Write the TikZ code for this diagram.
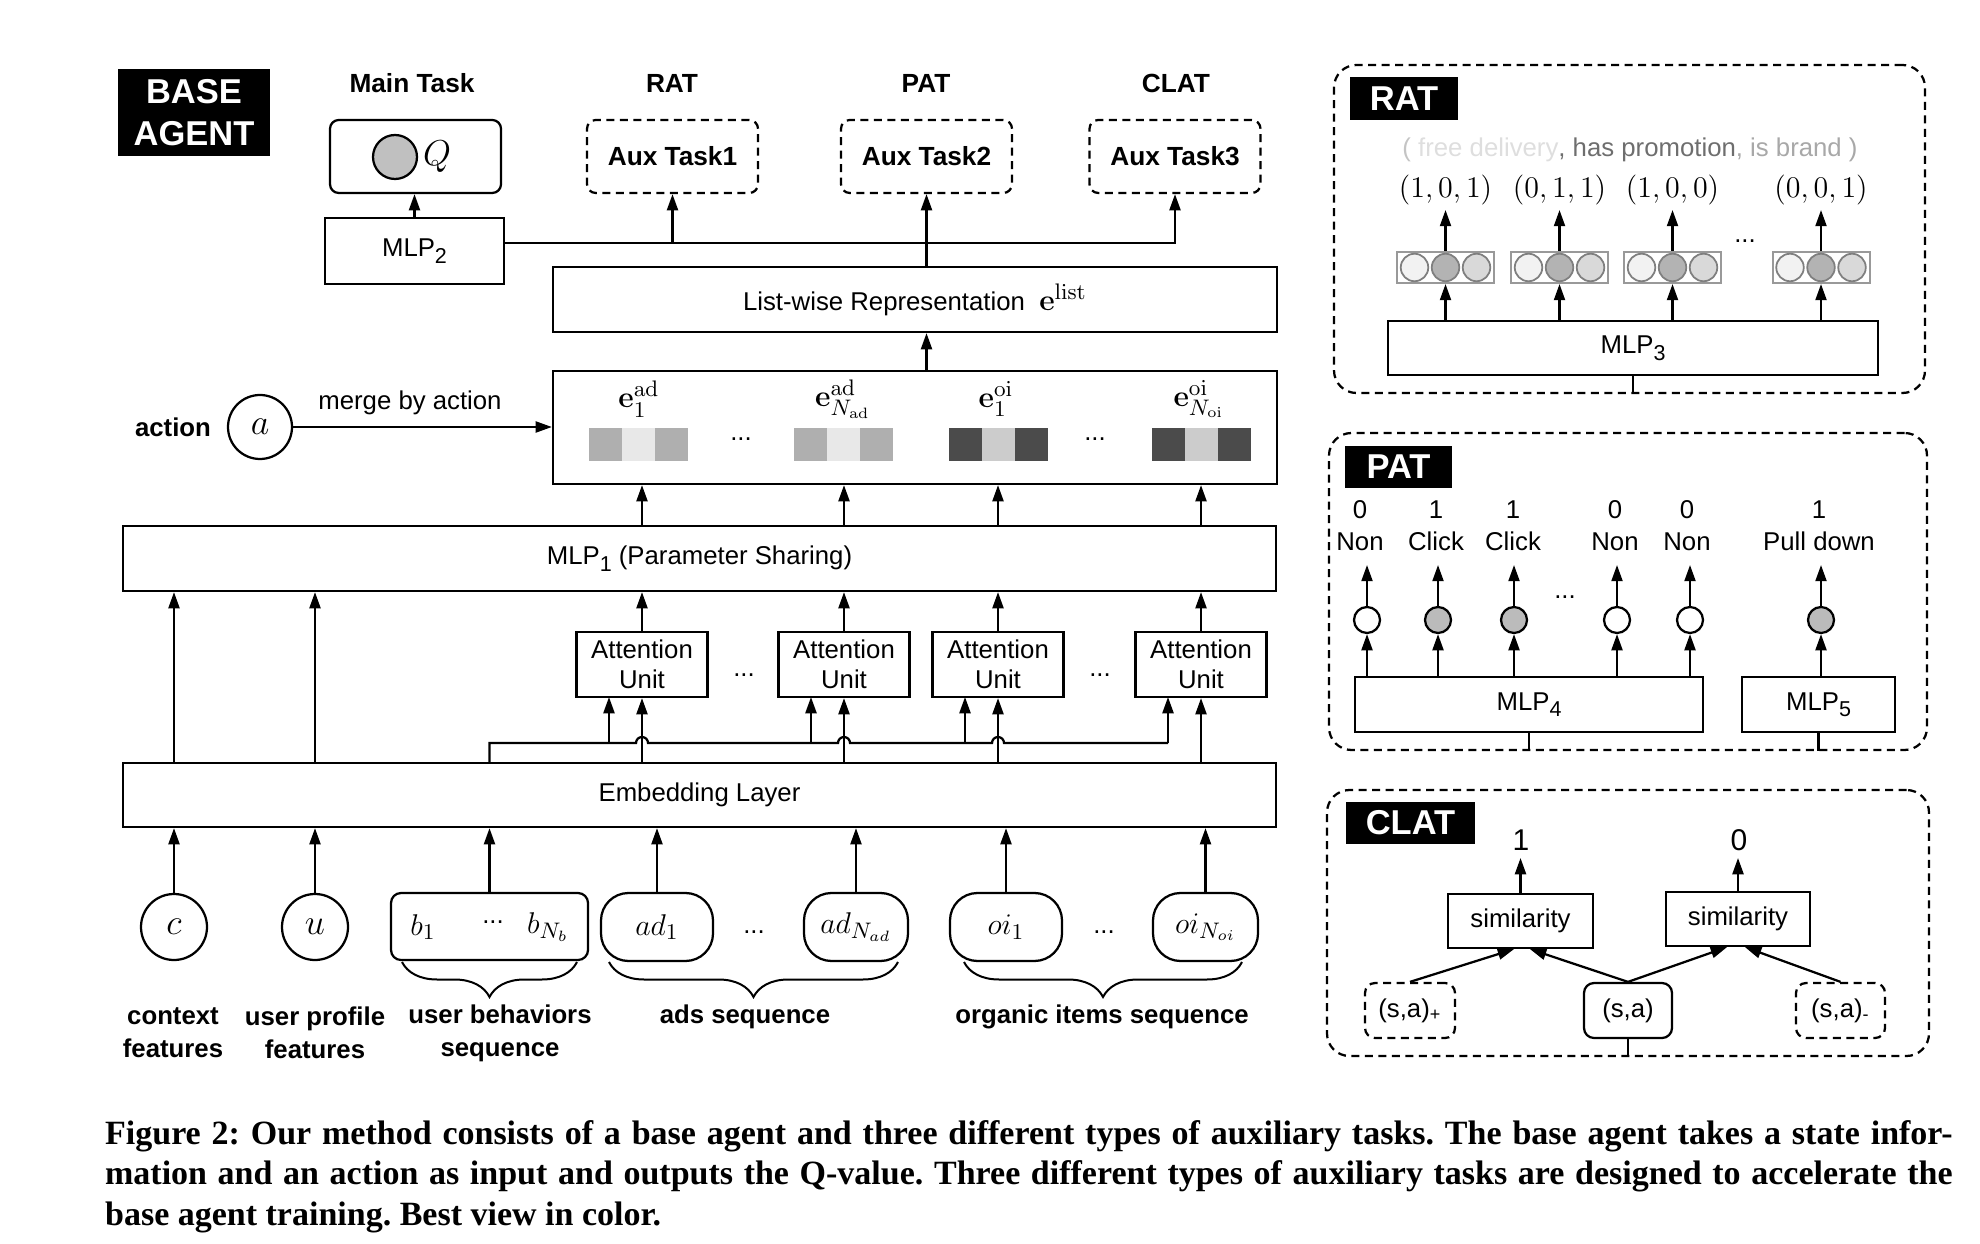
\documentclass[tikz,border=0pt]{standalone}
\usepackage[no-math]{fontspec}
\setmainfont{Liberation Sans}
\newfontfamily\capfont{Liberation Serif}
\usepackage{amsmath}
\usetikzlibrary{positioning,arrows.meta,decorations.pathreplacing,calc}

\definecolor{adout}{HTML}{AFAFAF}
\definecolor{adin}{HTML}{E8E8E8}
\definecolor{oiout}{HTML}{4B4B4B}
\definecolor{oiin}{HTML}{CCCCCC}
\definecolor{qfill}{HTML}{C0C0C0}
\definecolor{grpline}{HTML}{999999}
\definecolor{dotline}{HTML}{7F7F7F}
\definecolor{ratl}{HTML}{F2F2F2}
\definecolor{ratm}{HTML}{B3B3B3}
\definecolor{ratr}{HTML}{D9D9D9}
\definecolor{pfill}{HTML}{BBBBBB}
\definecolor{parc}{HTML}{C4C4C4}
\definecolor{fdc}{HTML}{DEDEDE}
\definecolor{hpc}{HTML}{6E6E6E}
\definecolor{ibc}{HTML}{A8A8A8}

\newcommand{\mlpsub}[1]{\raisebox{-2.6pt}{\fontsize{8.6}{10}\selectfont #1}}

\begin{document}
\begin{tikzpicture}[x=0.4pt,y=0.4pt,yscale=-1,line width=0.9pt,
  every node/.style={font=\fontsize{10.3}{12.4}\selectfont},
  arr/.style={-{Triangle[length=6.5pt,width=4.4pt]}},
  box/.style={draw,inner sep=0pt,align=center},
  tag/.style={fill=black,text=white,inner sep=0pt,align=center,font=\fontsize{13.8}{16.8}\selectfont\bfseries},
  ttl/.style={font=\fontsize{10.5}{12.6}\selectfont\bfseries},
  dsh/.style={dash pattern=on 3.2pt off 2.2pt},
  auxbox/.style={box,dsh,rounded corners=3.5pt,minimum width=68.4pt,minimum height=29.2pt,font=\fontsize{10.5}{12.6}\selectfont\bfseries},
  attn/.style={box,minimum width=52.4pt,minimum height=26pt,font=\fontsize{10.3}{12}\selectfont},
  mth/.style={font=\fontsize{13}{15}\selectfont},
  incirc/.style={draw,circle,inner sep=0pt,minimum size=26.4pt,font=\fontsize{13.5}{15}\selectfont},
  seqbox/.style={draw,rounded corners=11pt,inner sep=0pt,minimum height=27.2pt,font=\fontsize{13}{15}\selectfont},
  inlab/.style={align=center,inner sep=0pt,font=\fontsize{10.3}{13.2}\selectfont\bfseries},
  cell/.style={inner sep=0pt,minimum size=13.2pt},
  brc/.style={decorate,decoration={brace,mirror,amplitude=14pt},line width=0.8pt},
  panel/.style={draw,dsh,rounded corners=9pt,inner sep=0pt},
  grp/.style={draw=grpline,fill=white,inner sep=0pt,minimum width=38.8pt,minimum height=12.4pt,line width=0.8pt},
  rdot/.style={draw=dotline,circle,inner sep=0pt,minimum size=11pt,line width=0.7pt},
  pcirc/.style={draw,circle,inner sep=0pt,minimum size=10.4pt},
  patlab/.style={align=center,inner sep=0pt,font=\fontsize{10.3}{12.8}\selectfont},
  dts/.style={anchor=base,inner sep=0pt}
]
\useasboundingbox (0,0) rectangle (1980,1244);

%% ---------------- base agent ----------------
\node[tag,minimum width=60.8pt,minimum height=34.8pt] (basetag) at (194,112.5) {BASE\\AGENT};

% task titles
\node[ttl] (tmain) at (412,83) {Main Task};
\node[ttl] (trat) at (672,83) {RAT};
\node[ttl] (tpat) at (926,83) {PAT};
\node[ttl] (tclat) at (1176,83) {CLAT};

% outputs
\node[box,rounded corners=3.5pt,minimum width=68.4pt,minimum height=29.2pt] (qbox) at (415.5,156.5) {};
\node[draw,circle,fill=qfill,inner sep=0pt,minimum size=17.6pt] (qdot) at (395,157) {};
\node[font=\fontsize{13.5}{15}\selectfont] (qsym) at (437,157) {$Q$};
\node[auxbox] (aux1) at (672.5,156.5) {Aux Task1};
\node[auxbox] (aux2) at (926.5,156.5) {Aux Task2};
\node[auxbox] (aux3) at (1175,156.5) {Aux Task3};
\node[box,minimum width=71.6pt,minimum height=26.4pt] (mlp2) at (414.5,251) {MLP\mlpsub{2}};

% list-wise representation
\node[box,minimum width=289.6pt,minimum height=26pt] (listrep) at (915,299.5) {List-wise Representation\ \ {\fontsize{13}{15}\selectfont$\mathbf{e}^{\mathrm{list}}$}};

% item embeddings
\node[box,minimum width=289.6pt,minimum height=45.2pt] (ebox) at (915,427.5) {};
\node[mth,inner sep=1pt] (lab1) at (639,399) {$\mathbf{e}^{\mathrm{ad}}_{\vphantom{\mathrm{l}}1}$};
\node[mth,inner sep=1pt] (lab2) at (843,399) {$\mathbf{e}^{\mathrm{ad}}_{N_{\mathrm{ad}}}$};
\node[mth,inner sep=1pt] (lab3) at (996,399) {$\mathbf{e}^{\mathrm{oi}}_{\vphantom{\mathrm{l}}1}$};
\node[mth,inner sep=1pt] (lab4) at (1199,399) {$\mathbf{e}^{\mathrm{oi}}_{N_{\mathrm{oi}}}$};
\foreach \i/\x/\co/\ci in {1/638/adout/adin,2/843/adout/adin,3/998/oiout/oiin,4/1201/oiout/oiin}{
  \node[cell,fill=\co] (bl\i) at (\x-33,444.5) {};
  \node[cell,fill=\ci] (bm\i) at (\x,444.5) {};
  \node[cell,fill=\co] (br\i) at (\x+33,444.5) {};
}
\node[dts] (edots1) at (741,441) {...};
\node[dts] (edots2) at (1095,441) {...};

% action
\node[inlab] (actlab) at (173,427) {action};
\node[incirc,minimum size=25.6pt] (acirc) at (260,427) {$a$};
\node (merge) at (410,403) {merge by action};
\draw[arr] (acirc.east) -- (acirc.east -| ebox.west);

% MLP1 and attention units
\node[box,minimum width=461.2pt,minimum height=26pt] (mlp1) at (699.5,558.5) {MLP\mlpsub{1} (Parameter Sharing)};
\node[box,minimum width=461.2pt,minimum height=25.6pt] (embed) at (699.5,795) {Embedding Layer};
\coordinate (bus) at (0,743);
\foreach \i/\x in {1/642,2/844,3/998,4/1201}{
  \node[attn] (att\i) at (\x,664.5) {Attention\\Unit};
  \coordinate (in\i) at (\x-33,697);
}
\node[dts] (adots1) at (744,676) {...};
\node[dts] (adots2) at (1100,676) {...};

% inputs
\node[incirc] (cin) at (174,927) {$c$};
\node[incirc] (uin) at (315,927) {$u$};
\node[draw,rounded corners=4pt,inner sep=0pt,minimum width=78.8pt,minimum height=26.8pt] (bbox) at (489.5,926.5) {};
\node[mth] (b1) at (423,927) {$b_1$};
\node[dts] (bdots) at (493,923) {...};
\node[mth] (bN) at (548,927) {$b_{N_b}$};
\node[seqbox,minimum width=44.8pt] (ad1) at (657,927) {$ad_1$};
\node[seqbox,minimum width=41.6pt] (adN) at (856,927) {$ad_{N_{ad}}$};
\node[seqbox,minimum width=44.8pt] (oi1) at (1006,927) {$oi_1$};
\node[seqbox,minimum width=42pt] (oiN) at (1205.5,927) {$oi_{N_{oi}}$};
\node[dts] (sdots1) at (754,933) {...};
\node[dts] (sdots2) at (1104,933) {...};

% braces and input labels
\draw[brc] (402,962) -- (577,962);
\draw[brc] (609,962) -- (898,962);
\draw[brc] (964,962) -- (1242,962);
\node[inlab] (clab) at (173,1033) {context\\features};
\node[inlab] (ulab) at (315,1033) {user profile\\features};
\node[inlab] (blab) at (500,1033) {user behaviors\\sequence};
\node[inlab] (adlab) at (745,1017) {ads sequence};
\node[inlab] (oilab) at (1102,1017) {organic items sequence};

% connectors
\foreach \n in {cin,uin,bbox,ad1,adN,oi1,oiN}
  \draw[arr] (\n.north) -- (\n.north |- embed.south);
\foreach \n in {cin,uin}
  \draw[arr] (\n.north |- embed.north) -- (\n.north |- mlp1.south);
\draw (bbox.north |- embed.north) -- (bbox.north |- bus)
  -- ($(att1.south |- bus)+(-6,0)$) arc[start angle=180,end angle=360,radius=6]
  -- ($(att2.south |- bus)+(-6,0)$) arc[start angle=180,end angle=360,radius=6]
  -- ($(att3.south |- bus)+(-6,0)$) arc[start angle=180,end angle=360,radius=6]
  -- (in4 |- bus);
\foreach \i in {1,...,4}{
  \draw[arr] (in\i |- bus) -- (in\i);
  \draw[arr] (att\i.south |- embed.north) -- (att\i.south);
  \draw[arr] (att\i.north) -- (att\i.north |- mlp1.south);
  \draw[arr] (att\i.north |- mlp1.north) -- (att\i.north |- ebox.south);
}
\draw[arr] (aux2.south |- ebox.north) -- (aux2.south |- listrep.south);
\draw[arr] (aux2.south |- listrep.north) -- (aux2.south);
\coordinate (bustop) at (0,243);
\draw[arr] (mlp2.east |- bustop) -| (aux3.south);
\draw[arr] (aux1.south |- bustop) -- (aux1.south);
\draw[arr] (mlp2.north) -- (mlp2.north |- qbox.south);

%% ---------------- RAT ----------------
\node[panel,minimum width=236.4pt,minimum height=131.2pt] (ratpanel) at (1629.5,229) {};
\node[tag,minimum width=43.2pt,minimum height=17.2pt] (rattag) at (1404,98.5) {RAT};
\node (attrs) at (1630,150) {\textcolor{parc}{(} \textcolor{fdc}{free delivery}\textcolor{hpc}{, has promotion}\textcolor{ibc}{, is brand )}};
\node[box,minimum width=196pt,minimum height=21.6pt] (mlp3) at (1633,348) {MLP\mlpsub{3}};
\coordinate (rattip) at (0,210);
\foreach \i/\x/\t in {1/1445.5/{(1,0,1)},2/1559.5/{(0,1,1)},3/1672.5/{(1,0,0)},4/1821/{(0,0,1)}}{
  \node[mth] (tup\i) at (\x,190) {$\t$};
  \node[grp] (grp\i) at (\x,267.5) {};
  \node[rdot,fill=ratl] (ra\i) at (\x-31,267.5) {};
  \node[rdot,fill=ratm] (rb\i) at (\x,267.5) {};
  \node[rdot,fill=ratr] (rc\i) at (\x+31,267.5) {};
  \draw[arr] (grp\i.south |- mlp3.north) -- (grp\i.south);
  \draw[arr] (grp\i.north) -- (grp\i.north |- rattip);
}
\node[dts] (rdots) at (1745,243) {...};
\draw (mlp3.south) -- (mlp3.south |- ratpanel.south);

%% ---------------- PAT ----------------
\node[panel,minimum width=239.2pt,minimum height=126.8pt] (patpanel) at (1628,591.5) {};
\node[tag,minimum width=42.8pt,minimum height=16.8pt] (pattag) at (1398.5,467) {PAT};
\node[box,minimum width=139.2pt,minimum height=22pt] (mlp4) at (1529,704.5) {MLP\mlpsub{4}};
\node[box,minimum width=61.2pt,minimum height=22pt] (mlp5) at (1818.5,704.5) {MLP\mlpsub{5}};
\coordinate (pattip) at (0,565);
\foreach \i/\lx/\cx/\pv/\pw/\fc in {1/1360/1367/0/Non/white,2/1436/1438/1/Click/pfill,3/1513/1514/1/Click/pfill,4/1615/1617/0/Non/white,5/1687/1690/0/Non/white}{
  \node[patlab] (pl\i) at (\lx,526) {\pv\\\pw};
  \node[pcirc,fill=\fc] (pc\i) at (\cx,620) {};
  \draw[arr] (pc\i.south |- mlp4.north) -- (pc\i.south);
  \draw[arr] (pc\i.north) -- (pc\i.north |- pattip);
}
\node[patlab] (pl6) at (1819,526) {1\\Pull down};
\node[pcirc,fill=pfill] (pc6) at (1821,620) {};
\draw[arr] (pc6.south |- mlp5.north) -- (pc6.south);
\draw[arr] (pc6.north) -- (pc6.north |- pattip);
\node[dts] (pdots) at (1565,598) {...};
\draw (mlp4.south) -- (mlp4.south |- patpanel.south);
\draw (mlp5.south) -- (mlp5.south |- patpanel.south);

%% ---------------- CLAT ----------------
\node[panel,minimum width=240.8pt,minimum height=106.4pt] (clatpanel) at (1628,923) {};
\node[tag,minimum width=51.6pt,minimum height=16.8pt] (clattag) at (1410.5,823) {CLAT};
\node[box,minimum width=58pt,minimum height=21.6pt] (sim1) at (1520.5,921) {similarity};
\node[box,minimum width=57.6pt,minimum height=21.6pt] (sim2) at (1738,919) {similarity};
\node[font=\fontsize{12}{14}\selectfont] (one) at (1521,840) {1};
\node[font=\fontsize{12}{14}\selectfont] (zero) at (1739,840) {0};
\coordinate (clattip) at (0,858);
\draw[arr] (sim1.north) -- (sim1.north |- clattip);
\draw[arr] (sim2.north) -- (sim2.north |- clattip);
\node[box,dsh,rounded corners=4pt,minimum width=36pt,minimum height=22pt] (sap) at (1410,1010.5) {(s,a)\textsubscript{+}};
\node[box,rounded corners=4pt,minimum width=35.2pt,minimum height=22pt] (sa) at (1628,1010.5) {(s,a)};
\node[box,dsh,rounded corners=4pt,minimum width=35.6pt,minimum height=22pt] (sam) at (1840.5,1010.5) {(s,a)\textsubscript{-}};
\draw[arr] (sap.north) -- ([xshift=-2.6pt]sim1.south);
\draw[arr] (sa.north) -- ([xshift=3.8pt]sim1.south);
\draw[arr] (sa.north) -- ([xshift=-4.4pt]sim2.south);
\draw[arr] (sam.north) -- ([xshift=2.8pt]sim2.south);
\draw (sa.south) -- (sa.south |- clatpanel.south);

%% ---------------- caption ----------------
\node[anchor=north west,text width=739pt,align=justify,inner sep=0pt,
  font=\capfont\bfseries\fontsize{13.6}{16.2}\selectfont\frenchspacing] (caption) at (104,1119)
  {Figure 2: Our method consists of a base agent and three different types of auxiliary tasks. The base agent takes a state infor-\linebreak mation and an action as input and outputs the Q-value. Three different types of auxiliary tasks are designed to accelerate the\linebreak base agent training. Best view in color.};
\end{tikzpicture}
\end{document}
